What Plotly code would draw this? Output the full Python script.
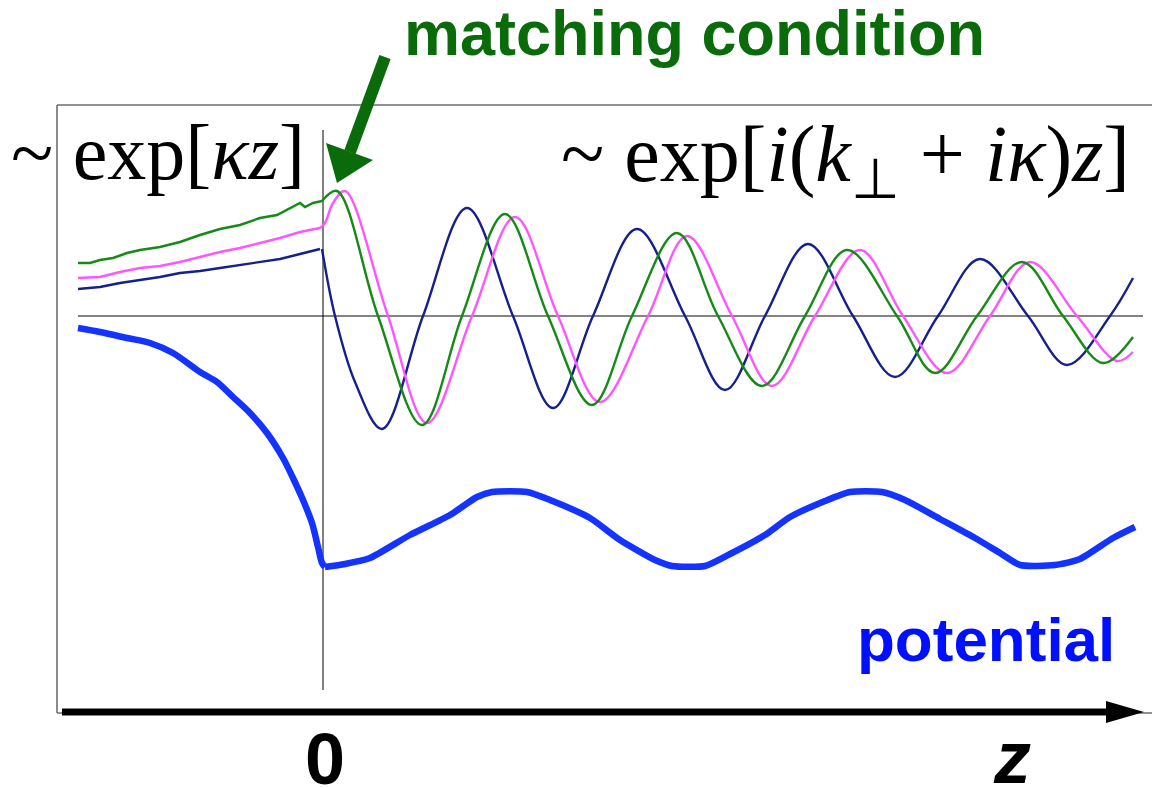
import plotly.graph_objects as go

W, H = 1152, 788

# ---------------- wave functions, z < 0 (evanescent side) ----------------
z_left = [-2.45, -2.23, -2.03, -1.83, -1.63, -1.43, -1.23, -1.03, -0.83, -0.63, -0.43, -0.23, -0.03]
navy_left = [0.27, 0.29, 0.33, 0.36, 0.39, 0.43, 0.45, 0.48, 0.51, 0.54, 0.57, 0.62, 0.67]
pink_left = [0.38, 0.39, 0.44, 0.48, 0.50, 0.54, 0.59, 0.64, 0.68, 0.73, 0.78, 0.84, 0.88]

z_green_left = [-2.45, -2.33, -2.23, -2.10, -1.96, -1.83, -1.63, -1.43, -1.23, -1.03,
                -0.83, -0.63, -0.46, -0.33, -0.23, -0.18, -0.10, -0.01]
green_left = [0.53, 0.53, 0.56, 0.58, 0.63, 0.66, 0.69, 0.74, 0.81, 0.87,
              0.91, 0.98, 1.01, 1.08, 1.13, 1.09, 1.13, 1.15]

# ---------------- wave functions, z > 0 (propagating, damped) ----------------
z_navy_right = [-0.01, 0.12, 0.32, 0.59, 1.00, 1.44, 1.90, 2.30, 2.70, 3.14, 3.62,
                4.02, 4.42, 4.85, 5.30, 5.72, 6.15, 6.57, 7.05, 7.44, 7.87, 8.10]
navy_right = [0.67, 0.00, -0.66, -1.13, 0.00, 1.08, 0.00, -0.92, 0.00, 0.87, 0.00,
              -0.74, 0.00, 0.72, 0.00, -0.61, 0.00, 0.57, 0.00, -0.49, 0.00, 0.38]

z_green_right = [-0.01, 0.14, 0.55, 0.99, 1.39, 1.82, 2.25, 2.69, 3.09, 3.54, 3.95,
                 4.39, 4.82, 5.24, 5.74, 6.12, 6.54, 6.99, 7.40, 7.80, 8.10]
green_right = [1.15, 1.25, 0.00, -1.09, 0.00, 1.02, 0.00, -0.89, 0.00, 0.83, 0.00,
               -0.70, 0.00, 0.66, 0.00, -0.57, 0.00, 0.54, 0.00, -0.47, -0.21]

z_pink_right = [-0.03, 0.02, 0.10, 0.22, 0.65, 1.04, 1.49, 1.92, 2.35, 2.77, 3.25, 3.64,
                4.09, 4.49, 4.92, 5.37, 5.80, 6.24, 6.67, 7.07, 7.54, 7.94, 8.10]
pink_right = [0.88, 0.93, 1.13, 1.25, 0.00, -1.07, 0.00, 0.99, 0.00, -0.86, 0.00, 0.80,
              0.00, -0.70, 0.00, 0.66, 0.00, -0.57, 0.00, 0.54, 0.00, -0.45, -0.36]

# ---------------- potential (barrier side, then periodic crystal) ----------------
z_pot_left = [-2.45, -2.23, -1.96, -1.73, -1.50, -1.23, -1.06, -0.90, -0.73, -0.56, -0.40,
              -0.30, -0.20, -0.11, -0.05, -0.01, 0.02]
pot_left = [-0.12, -0.16, -0.22, -0.27, -0.37, -0.56, -0.66, -0.81, -0.97, -1.17, -1.42,
            -1.62, -1.84, -2.07, -2.31, -2.47, -2.51]
z_pot_right = [0.02, 0.22, 0.47, 0.87, 1.27, 1.54, 1.69, 2.04, 2.27, 2.67, 2.97, 3.32,
               3.49, 3.82, 4.07, 4.42, 4.67, 5.02, 5.27, 5.59, 5.82, 6.17, 6.52, 6.77,
               6.97, 7.32, 7.57, 7.90, 8.12]
pot_right = [-2.51, -2.48, -2.42, -2.19, -1.99, -1.81, -1.76, -1.76, -1.84, -2.02, -2.24,
             -2.44, -2.50, -2.50, -2.38, -2.19, -2.01, -1.85, -1.76, -1.76, -1.84, -2.03,
             -2.22, -2.37, -2.49, -2.49, -2.43, -2.22, -2.11]

# axis extents (data units)
X_RANGE = [-3.23, 8.29]
Y_RANGE = [-4.72, 3.16]

NAVY = "#16208c"
GREEN = "#168a16"
PINK = "#ff55ff"
POT_BLUE = "#1433ff"
DARK_GREEN = "#0a6b0a"

fig = go.Figure()


def add_line(x, y, color, width, shape="linear", smoothing=1.0):
    fig.add_trace(go.Scatter(x=x, y=y, mode="lines", showlegend=False, hoverinfo="skip",
                             line=dict(color=color, width=width, shape=shape,
                                       smoothing=smoothing)))


add_line(z_pot_left, pot_left, POT_BLUE, 6.5, "spline", 0.8)
add_line(z_pot_right, pot_right, POT_BLUE, 6.5, "spline", 0.6)
add_line(z_left, navy_left, NAVY, 2.4)
add_line(z_left, pink_left, PINK, 2.4)
add_line(z_green_left, green_left, GREEN, 2.4)
add_line(z_navy_right, navy_right, NAVY, 2.4, "spline")
add_line(z_pink_right, pink_right, PINK, 2.4, "spline")
add_line(z_green_right, green_right, GREEN, 2.4, "spline")


def px(x):
    return x / W


def py(y):
    return 1 - y / H


def tri(points):
    return "M " + " L ".join(f"{px(a):.5f},{py(b):.5f}" for a, b in points) + " Z"


FRAME = "#6e6e6e"
shapes = [
    # frame
    dict(type="line", xref="paper", yref="paper", x0=px(57), x1=px(57), y0=py(105), y1=py(713),
         line=dict(color=FRAME, width=1.6)),
    dict(type="line", xref="paper", yref="paper", x0=px(57), x1=px(1152), y0=py(105), y1=py(105),
         line=dict(color=FRAME, width=1.6)),
    dict(type="line", xref="paper", yref="paper", x0=px(57), x1=px(1152), y0=py(713), y1=py(713),
         line=dict(color=FRAME, width=1.6)),
    # zero lines
    dict(type="line", xref="x", yref="y", x0=-2.45, x1=8.20, y0=0, y1=0,
         line=dict(color="#5a5a5a", width=1.3), layer="below"),
    dict(type="line", xref="x", yref="y", x0=0, x1=0, y0=1.86, y1=-3.74,
         line=dict(color="black", width=1), layer="below"),
    # z axis arrow
    dict(type="line", xref="paper", yref="paper", x0=px(62), x1=px(1112), y0=py(712), y1=py(712),
         line=dict(color="black", width=7)),
    dict(type="path", xref="paper", yref="paper",
         path=tri([(1106, 701), (1144, 712), (1106, 723)]),
         fillcolor="black", line=dict(width=0)),
    # matching-condition arrow
    dict(type="line", xref="paper", yref="paper", x0=px(385), x1=px(350), y0=py(57), y1=py(152),
         line=dict(color=DARK_GREEN, width=12)),
    dict(type="path", xref="paper", yref="paper",
         path=tri([(326, 143), (337, 183), (373, 160)]),
         fillcolor=DARK_GREEN, line=dict(width=0)),
]

SANS = "Liberation Sans, Arial, sans-serif"
SERIF = "Liberation Serif, Times New Roman, serif"


def label(text, xc, yc, size, color, family):
    return dict(text=text, xref="paper", yref="paper", x=px(xc), y=py(yc),
                xanchor="center", yanchor="middle", showarrow=False,
                font=dict(size=size, color=color, family=family))


annotations = [
    label("<b>matching condition</b>", 694, 33, 63, DARK_GREEN, SANS),
    label("<b>potential</b>", 986, 639, 62, "#0010ff", SANS),
    label("<b>0</b>", 325, 759, 72, "black", SANS),
    label("<b><i>z</i></b>", 1012, 757, 74, "black", SANS),
    label("~ exp[<i>κz</i>]", 158, 153, 78, "black", SERIF),
    label("~ exp[<i>i</i>(<i>k</i><sub>⊥</sub> + <i>iκ</i>)<i>z</i>]",
          845, 160, 80, "black", SERIF),
]

fig.update_layout(
    width=W, height=H,
    margin=dict(l=0, r=0, t=0, b=0),
    paper_bgcolor="white", plot_bgcolor="white",
    xaxis=dict(range=X_RANGE, visible=False, fixedrange=True),
    yaxis=dict(range=Y_RANGE, visible=False, fixedrange=True),
    shapes=shapes,
    annotations=annotations,
    showlegend=False,
)

fig.write_html("out.html", config={"displayModeBar": False})
